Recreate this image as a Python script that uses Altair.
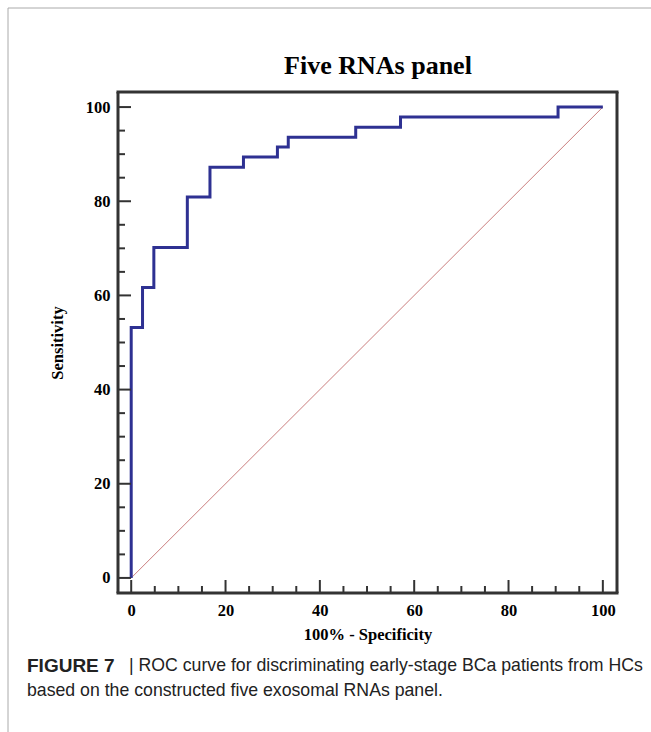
import altair as alt
import pandas as pd

# ROC curve points (100% - Specificity, Sensitivity), in %
fpr = [0, 0, 2.4, 4.8, 11.9, 16.7, 23.8, 31.0, 33.3, 47.6, 57.1, 90.5, 100]
tpr = [0, 53.2, 61.7, 70.2, 80.9, 87.2, 89.4, 91.5, 93.6, 95.7, 97.9, 100, 100]
diag_x = [0, 100]
diag_y = [0, 100]
major_ticks = [0, 20, 40, 60, 80, 100]
minor_ticks = [5, 10, 15, 25, 30, 35, 45, 50, 55, 65, 70, 75, 85, 90, 95]

title_text = "Five RNAs panel"
x_title = "100% - Specificity"
y_title = "Sensitivity"
cap_bold = "FIGURE 7"
cap_line1 = "| ROC curve for discriminating early-stage BCa patients from HCs"
cap_line2 = "based on the constructed five exosomal RNAs panel."

W, H = 499, 501
L, T = 118, 92
XD = [-2.8, 103]
YD = [-3.2, 103.2]
SERIF = "Liberation Serif"
SANS = "Liberation Sans"

roc = pd.DataFrame({"x": fpr, "y": tpr, "o": list(range(len(fpr)))})
diag = pd.DataFrame({"x": diag_x, "y": diag_y})
majors = pd.DataFrame({"v": major_ticks})
minors = pd.DataFrame({"v": minor_ticks})
one = pd.DataFrame({"a": [0]})

xs = alt.Scale(domain=XD, nice=False, zero=False)
ys = alt.Scale(domain=YD, nice=False, zero=False)

x_axis = alt.Axis(values=major_ticks, grid=False, ticks=False, domain=False,
                  labelFont=SERIF, labelFontWeight="bold", labelFontSize=16.5,
                  labelColor="black", labelPadding=9, title=x_title,
                  titleFont=SERIF, titleFontWeight="bold", titleFontSize=16.5,
                  titleColor="black", titlePadding=8)
y_axis = alt.Axis(values=major_ticks, grid=False, ticks=False, domain=False,
                  labelFont=SERIF, labelFontWeight="bold", labelFontSize=16.5,
                  labelColor="black", labelPadding=8, title=y_title,
                  titleFont=SERIF, titleFontWeight="bold", titleFontSize=16.5,
                  titleColor="black", titlePadding=20)

diag_layer = alt.Chart(diag).mark_line(color="#c46f6f", strokeWidth=0.9).encode(
    x=alt.X("x:Q", scale=xs, axis=x_axis),
    y=alt.Y("y:Q", scale=ys, axis=y_axis),
)

roc_layer = alt.Chart(roc).mark_line(color="#2e3192", strokeWidth=3,
                                     interpolate="step-after").encode(
    x=alt.X("x:Q", scale=xs),
    y=alt.Y("y:Q", scale=ys),
    order="o:Q",
)

TK = "#333333"
xmaj = alt.Chart(majors).mark_rule(color=TK, strokeWidth=2).encode(
    x=alt.X("v:Q", scale=xs), y=alt.value(H - 13), y2=alt.value(H))
xmin = alt.Chart(minors).mark_rule(color=TK, strokeWidth=2).encode(
    x=alt.X("v:Q", scale=xs), y=alt.value(H - 7), y2=alt.value(H))
ymaj = alt.Chart(majors).mark_rule(color=TK, strokeWidth=2).encode(
    y=alt.Y("v:Q", scale=ys), x=alt.value(0), x2=alt.value(13))
ymin = alt.Chart(minors).mark_rule(color=TK, strokeWidth=2).encode(
    y=alt.Y("v:Q", scale=ys), x=alt.value(0), x2=alt.value(7))

# plot frame
FR = "#333333"
f_top = alt.Chart(one).mark_rule(color=FR, strokeWidth=3).encode(
    x=alt.value(-1.5), x2=alt.value(W + 1.5), y=alt.value(0))
f_bot = alt.Chart(one).mark_rule(color=FR, strokeWidth=3).encode(
    x=alt.value(-1.5), x2=alt.value(W + 1.5), y=alt.value(H))
f_left = alt.Chart(one).mark_rule(color=FR, strokeWidth=3).encode(
    x=alt.value(0), y=alt.value(0), y2=alt.value(H))
f_right = alt.Chart(one).mark_rule(color=FR, strokeWidth=3).encode(
    x=alt.value(W), y=alt.value(0), y2=alt.value(H))

# page border lines (top and left)
border_top = alt.Chart(one).mark_rule(color="#aaaaaa", strokeWidth=1).encode(
    x=alt.value(8 - L), x2=alt.value(651 - L), y=alt.value(8 - T))
border_left = alt.Chart(one).mark_rule(color="#aaaaaa", strokeWidth=1).encode(
    x=alt.value(8 - L), y=alt.value(8 - T), y2=alt.value(732 - T))

title_layer = alt.Chart(pd.DataFrame({"t": [title_text]})).mark_text(
    font=SERIF, fontWeight="bold", fontSize=26, align="center", baseline="middle",
    color="black").encode(text="t:N", x=alt.value(378 - L), y=alt.value(66 - T))

cap_b = alt.Chart(pd.DataFrame({"t": [cap_bold]})).mark_text(
    font=SANS, fontWeight="bold", fontSize=19, align="left", baseline="middle",
    color="#222222").encode(text="t:N", x=alt.value(27 - L), y=alt.value(666 - T))
cap1 = alt.Chart(pd.DataFrame({"t": [cap_line1]})).mark_text(
    font=SANS, fontSize=17.7, align="left", baseline="middle", color="#222222").encode(
    text="t:N", x=alt.value(129 - L), y=alt.value(666 - T))
cap2 = alt.Chart(pd.DataFrame({"t": [cap_line2]})).mark_text(
    font=SANS, fontSize=17.7, align="left", baseline="middle", color="#222222").encode(
    text="t:N", x=alt.value(27 - L), y=alt.value(691 - T))

chart = alt.layer(
    diag_layer, roc_layer, xmaj, xmin, ymaj, ymin,
    f_top, f_bot, f_left, f_right, border_top, border_left,
    title_layer, cap_b, cap1, cap2,
).properties(
    width=W, height=H,
    padding={"left": L, "top": T, "right": 651 - L - W, "bottom": 732 - T - H},
    autosize=alt.AutoSizeParams(type="none"),
).configure_view(stroke=None).configure(background="white")

chart.save("out.html", embed_options={"renderer": "svg", "actions": False})
